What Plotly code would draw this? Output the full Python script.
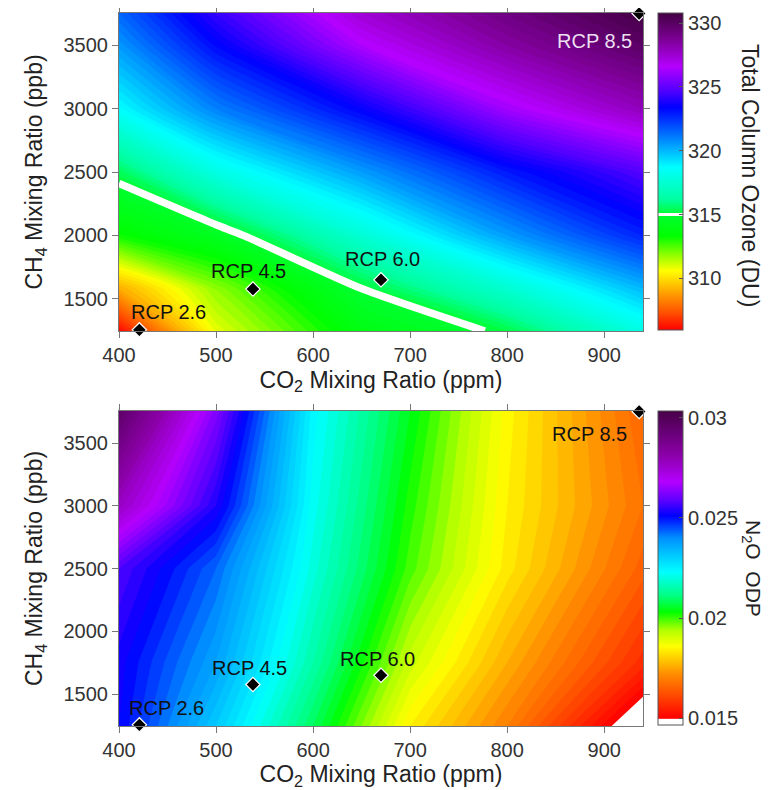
import plotly.graph_objects as go

# ---------------- data ----------------
co2_oz = [400, 500, 650, 800, 940]
ch4_oz = [1245, 1580, 2000, 2500, 3000, 3500, 3755]
ozone = [
    [306.0, 310.8, 313.9, 315.2, 318.0],
    [309.0, 311.8, 315.0, 317.5, 320.0],
    [313.2, 314.4, 317.6, 320.5, 322.8],
    [315.4, 318.0, 320.5, 323.0, 324.8],
    [318.7, 321.0, 323.5, 326.3, 328.0],
    [320.6, 323.3, 326.5, 328.5, 330.0],
    [321.5, 324.3, 327.5, 329.3, 330.8],
]
ozone_ref_level = 315.0

co2_odp = [400, 500, 600, 700, 800, 940]
ch4_odp = [1245, 1750, 2500, 3000, 3755]
odp = [
    [0.0252, 0.0232, 0.0210, 0.0186, 0.0172, 0.0146],
    [0.0253, 0.0238, 0.0216, 0.0193, 0.0178, 0.0159],
    [0.0258, 0.0244, 0.0221, 0.0201, 0.0185, 0.0167],
    [0.0277, 0.0254, 0.0223, 0.0203, 0.0186, 0.0170],
    [0.0296, 0.0263, 0.0225, 0.0206, 0.0187, 0.0168],
]

rcp_names = ["RCP 2.6", "RCP 4.5", "RCP 6.0", "RCP 8.5"]
rcp_co2 = [421, 538, 670, 936]
rcp_ch4 = [1254, 1576, 1649, 3751]

x_ticks = [400, 500, 600, 700, 800, 900]
y_ticks = [1500, 2000, 2500, 3000, 3500]
oz_ticks = [310, 315, 320, 325, 330]
odp_ticks = [0.015, 0.02, 0.025, 0.03]
odp_ticktext = ["0.015", "0.02", "0.025", "0.03"]

oz_range = [305.95, 330.8]
odp_range = [0.01467, 0.03033]

# colour stops in data units
oz_stops = [
    (305.95, "#ff0000"), (307.3, "#ff5000"), (308.7, "#ff9800"), (310.6, "#ffff00"),
    (312.0, "#80ff00"), (313.3, "#00ff00"), (315.0, "#00ff30"), (316.2, "#00ffa0"),
    (318.7, "#00ffff"), (321.3, "#0070ff"), (323.4, "#0000ff"), (324.7, "#5000ff"),
    (326.6, "#b400ff"), (328.7, "#7d0096"), (330.8, "#430043"),
]
odp_stops = [
    (0.0150, "#ff0000"), (0.0160, "#ff4000"), (0.0172, "#ff8c00"), (0.0186, "#ffff00"),
    (0.0194, "#b0ff00"), (0.0203, "#00ff00"), (0.0211, "#00ff80"), (0.0223, "#00ffff"),
    (0.0240, "#0090ff"), (0.0251, "#0000ff"), (0.0259, "#6000ff"), (0.0268, "#b400ff"),
    (0.0281, "#8c00aa"), (0.03033, "#480048"),
]


def hex2rgb(h):
    h = h.lstrip("#")
    return tuple(int(h[i:i + 2], 16) for i in (0, 2, 4))


def color_at(stops, v):
    if v <= stops[0][0]:
        return stops[0][1]
    for (a, ca), (b, cb) in zip(stops[:-1], stops[1:]):
        if a <= v <= b:
            t = (v - a) / (b - a) if b > a else 0
            r1, g1, b1 = hex2rgb(ca)
            r2, g2, b2 = hex2rgb(cb)
            return "#%02x%02x%02x" % (round(r1 + t * (r2 - r1)), round(g1 + t * (g2 - g1)), round(b1 + t * (b2 - b1)))
    return stops[-1][1]


def to_scale(stops, lo, hi):
    out = []
    for v, c in stops:
        p = min(1.0, max(0.0, (v - lo) / (hi - lo)))
        out.append([p, c])
    out[0][0] = 0.0
    out[-1][0] = 1.0
    return out


oz_scale = to_scale(oz_stops, *oz_range)
# colorbar scale with a white stripe at the reference level
w0, w1 = ozone_ref_level - 0.12, ozone_ref_level + 0.12
oz_cb_stops = [s for s in oz_stops if s[0] < w0] + [(w0, color_at(oz_stops, w0)), (w0, "#ffffff"),
                                                     (w1, "#ffffff"), (w1, color_at(oz_stops, w1))] + \
              [s for s in oz_stops if s[0] > w1]
oz_cb_scale = to_scale(oz_cb_stops, *oz_range)

odp_scale = [[0.0, "#ffffff"], [(0.01497 - odp_range[0]) / (odp_range[1] - odp_range[0]), "#ffffff"]] + \
            [[max((v - odp_range[0]) / (odp_range[1] - odp_range[0]), 0.0), c] for v, c in odp_stops]
odp_scale[-1][0] = 1.0

FONT = "Liberation Sans, Arial, Helvetica, sans-serif"
TICKC = "#333333"

# page geometry (the page body adds an 8px offset)
OFF = 8
W, H = 770 - OFF, 790 - OFF


def fx(px):
    return (px - OFF) / W


def fy(py):
    return 1 - (py - OFF) / H


fig = go.Figure()

# ---- top: total column ozone ----
fig.add_trace(go.Contour(
    x=co2_oz, y=ch4_oz, z=ozone, xaxis="x", yaxis="y",
    colorscale=oz_scale, zmin=oz_range[0], zmax=oz_range[1], zauto=False,
    autocontour=False, contours=dict(start=306.0, end=330.75, size=0.25, coloring="fill"),
    line=dict(width=0, smoothing=0.6), showscale=False, hoverinfo="skip"))
fig.add_trace(go.Contour(
    x=co2_oz, y=ch4_oz, z=ozone, xaxis="x", yaxis="y",
    autocontour=False,
    contours=dict(start=ozone_ref_level, end=ozone_ref_level, size=1, coloring="none"),
    line=dict(width=7.5, color="white", smoothing=0.6), showscale=False, hoverinfo="skip"))
fig.add_trace(go.Scatter(
    x=[rcp_co2[0], rcp_co2[0]], y=[rcp_ch4[0], rcp_ch4[0]], xaxis="x", yaxis="y", mode="markers",
    marker=dict(size=1, opacity=0, color=oz_range, cmin=oz_range[0], cmax=oz_range[1],
                colorscale=oz_cb_scale, showscale=True,
                colorbar=dict(x=fx(658), xanchor="left", y=fy(13), yanchor="top",
                              len=(330 - 13) / H, lenmode="fraction", thickness=25,
                              xpad=0, ypad=0, outlinewidth=1, outlinecolor="#555555",
                              tickvals=oz_ticks, ticks="inside", ticklen=4, tickcolor="#555555",
                              tickfont=dict(size=20, color=TICKC, family=FONT))),
    hoverinfo="skip", showlegend=False))
fig.add_trace(go.Scatter(
    x=rcp_co2, y=rcp_ch4, xaxis="x", yaxis="y", mode="markers", cliponaxis=False,
    marker=dict(symbol="diamond", size=11, color="black", line=dict(color="white", width=1.2)),
    hoverinfo="skip", showlegend=False))

# ---- bottom: N2O ODP ----
fig.add_trace(go.Contour(
    x=co2_odp, y=ch4_odp, z=odp, xaxis="x2", yaxis="y2",
    colorscale=odp_scale, zmin=odp_range[0], zmax=odp_range[1], zauto=False,
    autocontour=False, contours=dict(start=0.015, end=0.0302, size=0.0002, coloring="fill"),
    line=dict(width=0, smoothing=0), showscale=False, hoverinfo="skip"))
fig.add_trace(go.Scatter(
    x=[rcp_co2[0], rcp_co2[0]], y=[rcp_ch4[0], rcp_ch4[0]], xaxis="x2", yaxis="y2", mode="markers",
    marker=dict(size=1, opacity=0, color=odp_range, cmin=odp_range[0], cmax=odp_range[1],
                colorscale=odp_scale, showscale=True,
                colorbar=dict(x=fx(658), xanchor="left", y=fy(411), yanchor="top",
                              len=(725 - 411) / H, lenmode="fraction", thickness=25,
                              xpad=0, ypad=0, outlinewidth=1, outlinecolor="#555555",
                              tickvals=odp_ticks, ticktext=odp_ticktext, ticks="inside",
                              ticklen=4, tickcolor="#555555",
                              tickfont=dict(size=20, color=TICKC, family=FONT))),
    hoverinfo="skip", showlegend=False))
fig.add_trace(go.Scatter(
    x=rcp_co2, y=rcp_ch4, xaxis="x2", yaxis="y2", mode="markers", cliponaxis=False,
    marker=dict(symbol="diamond", size=11, color="black", line=dict(color="white", width=1.2)),
    hoverinfo="skip", showlegend=False))

# ---- RCP labels ----
top_offsets = [("left", -10, 18), ("center", -4, 18), ("center", 1, 21), ("right", -5, -27)]
bot_offsets = [("left", -12, 17), ("center", -3, 16), ("center", -4, 16), ("right", -10, -22)]
annotations = []
for i, name in enumerate(rcp_names):
    xa, dx, dy = top_offsets[i]
    annotations.append(dict(x=rcp_co2[i], y=rcp_ch4[i], xref="x", yref="y", text=name, showarrow=False,
                            xanchor=xa, yanchor="middle", xshift=dx, yshift=dy,
                            font=dict(size=20, family=FONT,
                                      color="#ecdff2" if name == "RCP 8.5" else "#111111")))
    xa, dx, dy = bot_offsets[i]
    annotations.append(dict(x=rcp_co2[i], y=rcp_ch4[i], xref="x2", yref="y2", text=name, showarrow=False,
                            xanchor=xa, yanchor="middle", xshift=dx, yshift=dy,
                            font=dict(size=20, family=FONT, color="#111111")))

annotations.append(dict(x=fx(750), y=fy(175), xref="paper", yref="paper",
                        text="Total Column Ozone (DU)", textangle=90, showarrow=False,
                        xanchor="center", yanchor="middle",
                        font=dict(size=23, family=FONT, color="#222222")))
annotations.append(dict(x=fx(752), y=fy(568), xref="paper", yref="paper",
                        text="N<sub>2</sub>O  ODP", textangle=90, showarrow=False,
                        xanchor="center", yanchor="middle",
                        font=dict(size=21, family=FONT, color="#222222")))

axis_common = dict(showline=True, linecolor="#777777", linewidth=1, mirror="ticks", ticks="outside",
                   ticklen=6, tickcolor="#777777", showgrid=False, zeroline=False, automargin=False,
                   tickfont=dict(size=20, color=TICKC, family=FONT))

xdom = [fx(119), fx(643)]
title_font = dict(size=23, color="#222222", family=FONT)
fig.update_layout(
    width=W, height=H, margin=dict(l=0, r=0, t=0, b=0, autoexpand=False),
    paper_bgcolor="white", plot_bgcolor="white", showlegend=False,
    font=dict(family=FONT),
    xaxis=dict(domain=xdom, range=[400, 940], tickvals=x_ticks, anchor="y",
               title=dict(text="CO<sub>2</sub> Mixing Ratio (ppm)", standoff=6, font=title_font),
               **axis_common),
    yaxis=dict(domain=[fy(331), fy(13)], range=[1245, 3755], tickvals=y_ticks, anchor="x",
               title=dict(text="CH<sub>4</sub> Mixing Ratio (ppb)", standoff=14, font=title_font),
               **axis_common),
    xaxis2=dict(domain=xdom, range=[400, 940], tickvals=x_ticks, anchor="y2",
                title=dict(text="CO<sub>2</sub> Mixing Ratio (ppm)", standoff=6, font=title_font),
                **axis_common),
    yaxis2=dict(domain=[fy(726), fy(411)], range=[1245, 3755], tickvals=y_ticks, anchor="x2",
                title=dict(text="CH<sub>4</sub> Mixing Ratio (ppb)", standoff=14, font=title_font),
                **axis_common),
    annotations=annotations,
)

fig.write_html("out.html")
